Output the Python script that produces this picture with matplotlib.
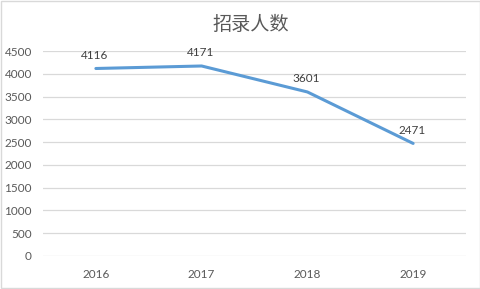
import matplotlib
matplotlib.use('Agg')
import matplotlib.pyplot as plt
from matplotlib.patches import Rectangle

# data
years = ['2016', '2017', '2018', '2019']
counts = [4116, 4171, 3601, 2471]
yticks = list(range(0, 5000, 500))
title = '招录人数'

plt.rcParams['font.family'] = ['Lato', 'Noto Sans CJK SC', 'DejaVu Sans']

fig = plt.figure(figsize=(4.81, 2.89), dpi=100)
ax = fig.add_axes([43 / 481, 1 - 256 / 289, 423 / 481, 205 / 289])

x = list(range(len(years)))
ax.plot(x, counts, color='#5B9BD5', lw=2.2, solid_capstyle='round')
for xi, v in zip(x, counts):
    ax.annotate(str(v), (xi, v), xytext=(-1, 9.5), textcoords='offset points',
                ha='center', va='center', fontsize=8.5, color='#404040')

ax.set_xlim(-0.5, len(years) - 0.5)
ax.set_ylim(0, 4500)
ax.set_yticks(yticks)
ax.set_xticks(x)
ax.set_xticklabels(years)
ax.tick_params(axis='both', length=0, labelsize=8.5, labelcolor='#595959')
ax.tick_params(axis='y', pad=8)
ax.tick_params(axis='x', pad=9)
ax.grid(axis='y', color='#D9D9D9', lw=0.9)
ax.set_axisbelow(True)
for s in ax.spines.values():
    s.set_visible(False)

fig.text(251 / 481, 1 - 25 / 289, title, ha='center', va='center', fontsize=13.8,
         color='#595959', family=['Noto Sans CJK SC', 'DejaVu Sans'])

# light border around the chart
fig.patches.append(Rectangle((0.002, 0.003), 0.996, 0.994, transform=fig.transFigure,
                             fill=False, edgecolor='#D9D9D9', lw=1))

fig.savefig('out.png', dpi=100)
